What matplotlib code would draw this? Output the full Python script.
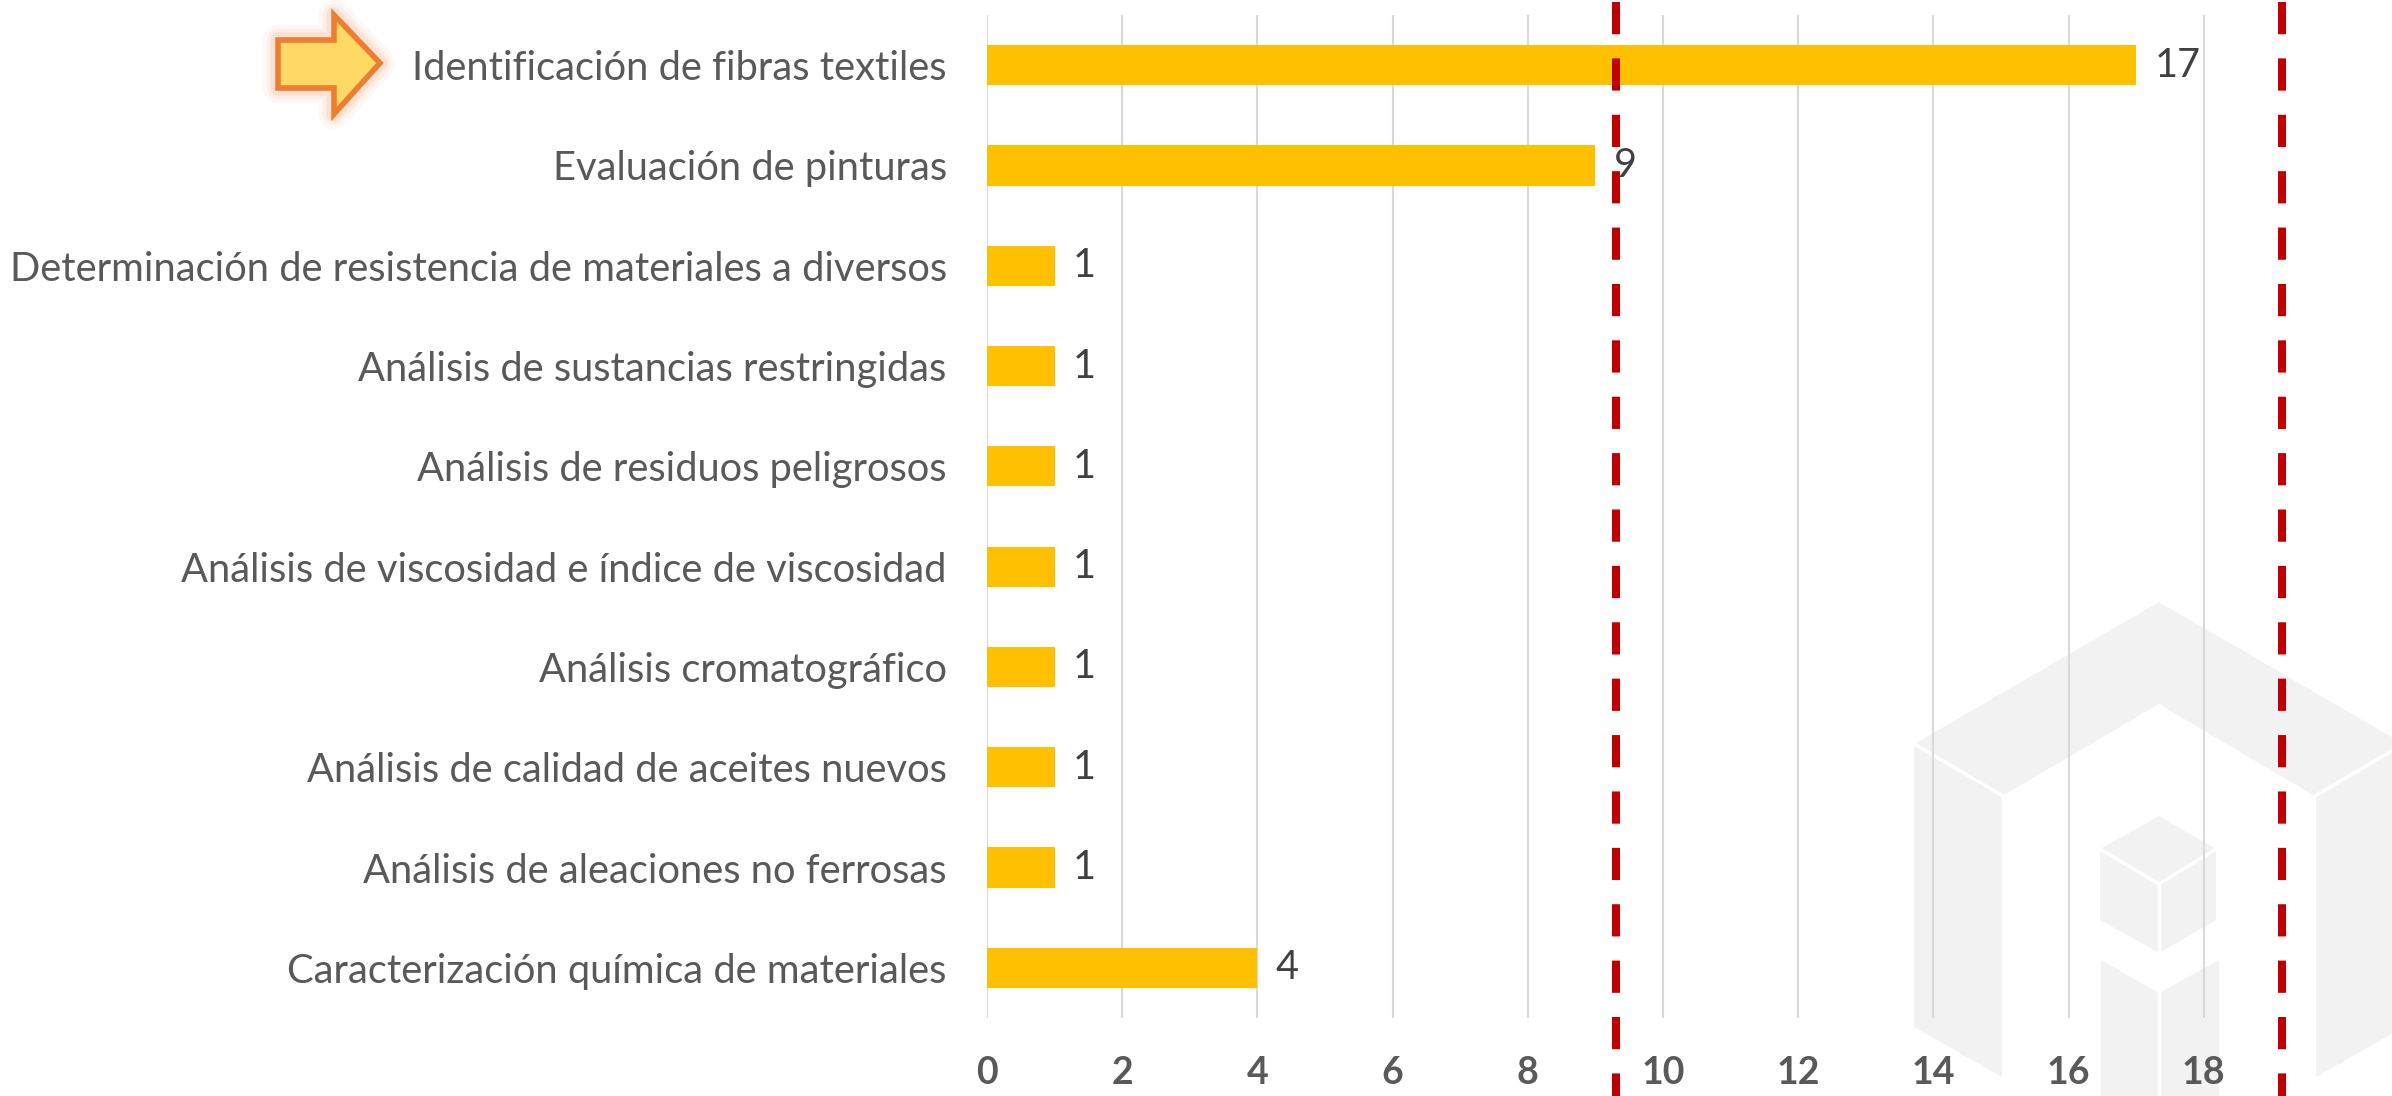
import matplotlib
matplotlib.use("Agg")
import matplotlib.pyplot as plt
import matplotlib.transforms as mtransforms
from matplotlib.patches import Polygon
from matplotlib.lines import Line2D

# datos
categorias = [
    "Identificación de fibras textiles",
    "Evaluación de pinturas",
    "Determinación de resistencia de materiales a diversos",
    "Análisis de sustancias restringidas",
    "Análisis de residuos peligrosos",
    "Análisis de viscosidad e índice de viscosidad",
    "Análisis cromatográfico",
    "Análisis de calidad de aceites nuevos",
    "Análisis de aleaciones no ferrosas",
    "Caracterización química de materiales",
]
valores = [17, 9, 1, 1, 1, 1, 1, 1, 1, 4]
ticks_x = [0, 2, 4, 6, 8, 10, 12, 14, 16, 18]
limites = [9.3, 19.15]

W, H = 2392, 1096
FONT = "Lato"

fig = plt.figure(figsize=(W / 100, H / 100), dpi=100)
# transform in pixels from top-left corner
px = mtransforms.Affine2D().scale(1 / W, -1 / H).translate(0, 1) + fig.transFigure


def poly(pts, color, z=-2, **kw):
    p = Polygon(pts, closed=True, transform=px, facecolor=color, edgecolor="none",
                zorder=z, **kw)
    fig.patches.append(p)


def wline(pts, color="white", lw=2.5, z=-1.5):
    xs = [p[0] for p in pts]
    ys = [p[1] for p in pts]
    fig.lines.append(Line2D(xs, ys, transform=px, color=color, lw=lw, zorder=z))


# logo de fondo (marca de agua)
gris = "#F2F2F2"
poly([(1916, 743), (2159, 602), (2402, 743), (2313, 795), (2159, 704), (2004, 795)], gris)
poly([(1914, 745), (2002, 797), (2002, 1077), (1914, 1027)], gris)
poly([(2404, 745), (2316, 797), (2316, 1077), (2404, 1027)], gris)
poly([(2159, 816), (2216, 849), (2216, 920), (2159, 953), (2100, 920), (2100, 849)], gris)
poly([(2101, 960), (2159, 993), (2219, 960), (2219, 1100), (2101, 1100)], gris)
wline([(1914, 744), (2003, 796)])
wline([(2404, 744), (2315, 796)])
wline([(2100, 849), (2159, 884), (2216, 849)])
wline([(2159, 884), (2159, 953)])
wline([(2159, 993), (2159, 1100)])

ax = fig.add_axes([987 / W, 78 / H, 1 - 987 / W, (1018 - 15) / H])
ax.patch.set_alpha(0)
y = list(range(len(categorias)))
ax.barh(y, valores, height=0.4, color="#FFC000", zorder=2)
ax.set_xlim(0, (W - 987) / 67.6)
ax.set_ylim(len(categorias) - 0.5, -0.5)
ax.set_xticks(ticks_x)
ax.set_yticks(y)
ax.set_yticklabels(categorias, fontsize=28.7, color="#595959", family=FONT)
ax.set_xticklabels([str(t) for t in ticks_x], fontsize=27, color="#595959",
                   family=FONT, fontweight="bold")
ax.tick_params(axis="y", length=0, pad=29)
ax.tick_params(axis="x", length=0, pad=27)
ax.grid(axis="x", color="#D9D9D9", lw=1.5, zorder=0)
ax.set_axisbelow(True)
for s in ax.spines.values():
    s.set_visible(False)

for yi, v in zip(y, valores):
    ax.text(v + 0.27, yi, str(v), va="center", ha="left", fontsize=28.5,
            color="#404040", family=FONT, zorder=3)

# lineas rojas discontinuas
blend = mtransforms.blended_transform_factory(ax.transData, fig.transFigure)
for xl in limites:
    ax.plot([xl, xl], [0.998, 0], transform=blend, color="#C00000", lw=5.8,
            dashes=(4, 3), solid_capstyle="butt", dash_capstyle="butt",
            clip_on=False, zorder=4)

# flecha
flecha = [(278, 40), (334, 40), (334, 15), (380, 63), (334, 114), (334, 88), (278, 88)]
for lw, a in [(22, 0.08), (16, 0.12), (11, 0.2)]:
    fig.patches.append(Polygon(flecha, closed=True, transform=px, facecolor="none",
                               edgecolor="#F4B183", lw=lw, alpha=a, joinstyle="round"))
fig.patches.append(Polygon(flecha, closed=True, transform=px, facecolor="#FFD966",
                           edgecolor="#ED7D31", lw=4, joinstyle="miter"))

fig.savefig("out.png", dpi=100)
